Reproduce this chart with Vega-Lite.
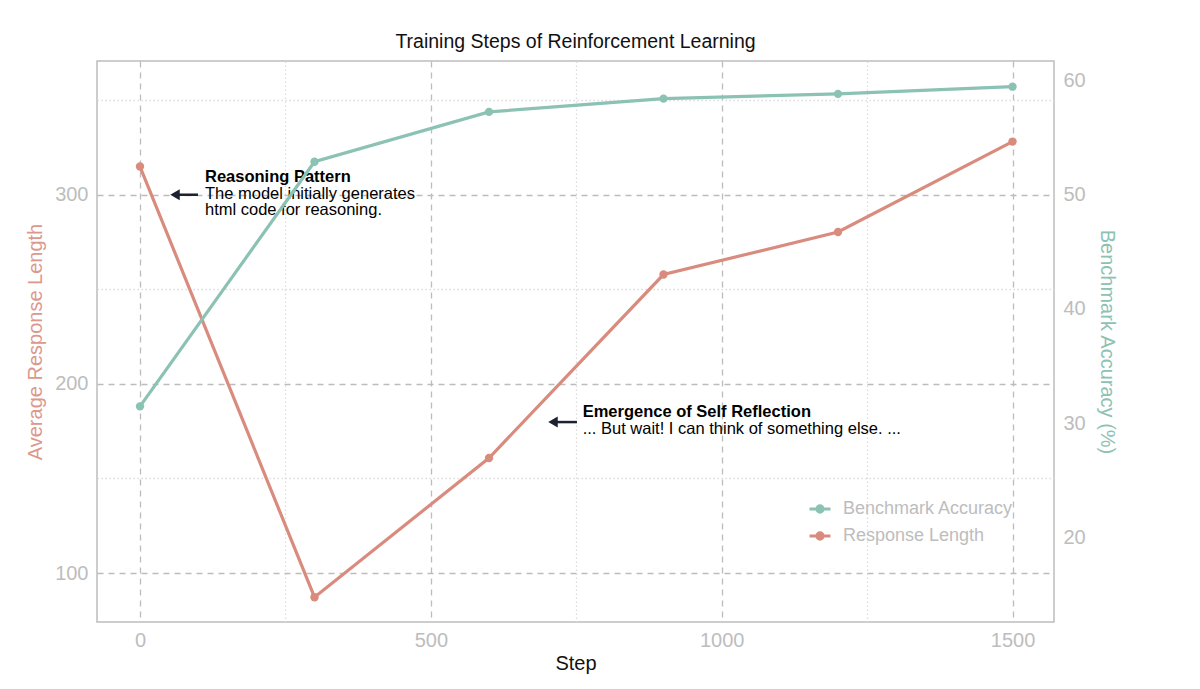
{
  "$schema": "https://vega.github.io/schema/vega-lite/v6.json",
  "width": 957,
  "height": 561,
  "autosize": {"type": "none"},
  "padding": {"left": 97, "top": 61, "right": 146, "bottom": 67},
  "background": "white",
  "config": {
    "font": "Liberation Sans",
    "view": {"stroke": "#bdbdbd", "strokeWidth": 1.5},
    "axis": {"domain": false, "ticks": false, "labelFont": "Liberation Sans", "titleFont": "Liberation Sans", "labelColor": "#bdbdbd", "labelFontSize": 20, "titleFontSize": 20, "titleFontWeight": "normal"}
  },
  "title": {"text": "Training Steps of Reinforcement Learning", "fontSize": 19.5, "fontWeight": "normal", "font": "Liberation Sans", "color": "#111111", "anchor": "middle", "offset": 9},
  "datasets": {
    "series": [
      {"step": 0, "series": "Response Length", "value": 314.9},
      {"step": 300, "series": "Response Length", "value": 87.2},
      {"step": 600, "series": "Response Length", "value": 160.8},
      {"step": 900, "series": "Response Length", "value": 257.8},
      {"step": 1200, "series": "Response Length", "value": 280.3},
      {"step": 1500, "series": "Response Length", "value": 328.1},
      {"step": 0, "series": "Benchmark Accuracy", "value": 31.46},
      {"step": 300, "series": "Benchmark Accuracy", "value": 52.9},
      {"step": 600, "series": "Benchmark Accuracy", "value": 57.27},
      {"step": 900, "series": "Benchmark Accuracy", "value": 58.43},
      {"step": 1200, "series": "Benchmark Accuracy", "value": 58.85},
      {"step": 1500, "series": "Benchmark Accuracy", "value": 59.48}
    ],
    "notes": [
      {"step": 111.7, "value": 309.3, "kind": "title", "text": "Reasoning Pattern"},
      {"step": 111.7, "value": 300.5, "kind": "body", "text": "The model initially generates"},
      {"step": 111.7, "value": 291.7, "kind": "body", "text": "html code for reasoning."},
      {"step": 761, "value": 185.0, "kind": "title", "text": "Emergence of Self Reflection"},
      {"step": 761, "value": 176.0, "kind": "body", "text": "... But wait! I can think of something else. ..."}
    ],
    "arrows": [
      {"step": 60.2, "step2": 99.7, "value": 300.0},
      {"step": 710, "step2": 751.2, "value": 179.8}
    ]
  },
  "layer": [
    {
      "layer": [
        {
          "data": {"name": "series"},
          "transform": [{"filter": "datum.series === 'Response Length'"}],
          "mark": {"type": "line", "strokeWidth": 3.2, "point": {"filled": true, "size": 70}},
          "encoding": {
            "x": {"field": "step", "type": "quantitative", "scale": {"domain": [-73.9, 1571.3], "nice": false, "zero": false},
              "axis": {"title": "Step", "titleColor": "#111111", "titlePadding": 3, "labelPadding": 8,
                "values": [0, 250, 500, 750, 1000, 1250, 1500],
                "labelExpr": "datum.value % 500 === 0 ? format(datum.value, 'd') : ''",
                "grid": true,
                "gridDash": {"condition": {"test": "datum.value % 500 === 0", "value": [6, 5]}, "value": [1.5, 2.5]},
                "gridColor": {"condition": {"test": "datum.value % 500 === 0", "value": "#bcbcbc"}, "value": "#dcdcdc"},
                "gridWidth": 1.3}},
            "y": {"field": "value", "type": "quantitative", "scale": {"domain": [74.1, 370.7], "nice": false, "zero": false},
              "axis": {"orient": "left", "title": "Average Response Length", "titleColor": "#dc988c", "labelPadding": 9, "titlePadding": 9,
                "values": [100, 150, 200, 250, 300, 350],
                "labelExpr": "datum.value % 100 === 0 ? datum.label : ''",
                "grid": true,
                "gridDash": {"condition": {"test": "datum.value % 100 === 0", "value": [6, 5]}, "value": [1.5, 2.5]},
                "gridColor": {"condition": {"test": "datum.value % 100 === 0", "value": "#bcbcbc"}, "value": "#dcdcdc"},
                "gridWidth": 1.3}},
            "color": {"field": "series", "type": "nominal",
              "scale": {"domain": ["Benchmark Accuracy", "Response Length"], "range": ["#8cc2b3", "#d98b7e"]},
              "legend": {"orient": "none", "legendX": 711, "legendY": 436, "title": null,
                "labelFontSize": 18, "labelColor": "#bdbdbd", "labelFont": "Liberation Sans", "labelLimit": 400,
                "symbolType": "M-1,0H1M0.3,0A0.3,0.3,0,1,1,-0.3,0A0.3,0.3,0,1,1,0.3,0Z",
                "symbolSize": 440, "symbolStrokeWidth": 3, "rowPadding": 5, "labelOffset": 11,
                "encode": {"symbols": {"update": {"fill": {"scale": "color", "field": "value"}, "stroke": {"scale": "color", "field": "value"}, "opacity": {"value": 1}}}}}}
          }
        },
        {
          "data": {"name": "arrows"},
          "mark": {"type": "rule", "color": "#1c2230", "strokeWidth": 2.5},
          "encoding": {
            "x": {"field": "step", "type": "quantitative"},
            "x2": {"field": "step2"},
            "y": {"field": "value", "type": "quantitative"}
          }
        },
        {
          "data": {"name": "arrows"},
          "mark": {"type": "point", "shape": "triangle-left", "filled": true, "color": "#1c2230", "size": 120, "opacity": 1},
          "encoding": {
            "x": {"field": "step", "type": "quantitative"},
            "y": {"field": "value", "type": "quantitative"}
          }
        },
        {
          "data": {"name": "notes"},
          "transform": [{"filter": "datum.kind === 'title'"}],
          "mark": {"type": "text", "align": "left", "baseline": "middle", "fontSize": 16.5, "fontWeight": "bold", "font": "Liberation Sans", "color": "#000000"},
          "encoding": {
            "x": {"field": "step", "type": "quantitative"},
            "y": {"field": "value", "type": "quantitative"},
            "text": {"field": "text"}
          }
        },
        {
          "data": {"name": "notes"},
          "transform": [{"filter": "datum.kind === 'body'"}],
          "mark": {"type": "text", "align": "left", "baseline": "middle", "fontSize": 16.5, "font": "Liberation Sans", "color": "#000000"},
          "encoding": {
            "x": {"field": "step", "type": "quantitative"},
            "y": {"field": "value", "type": "quantitative"},
            "text": {"field": "text"}
          }
        }
      ]
    },
    {
      "data": {"name": "series"},
      "transform": [{"filter": "datum.series === 'Benchmark Accuracy'"}],
      "mark": {"type": "line", "strokeWidth": 3.2, "point": {"filled": true, "size": 70}},
      "encoding": {
        "x": {"field": "step", "type": "quantitative"},
        "y": {"field": "value", "type": "quantitative", "scale": {"domain": [12.56, 61.73], "nice": false, "zero": false},
          "axis": {"orient": "right", "title": "Benchmark Accuracy (%)", "titleColor": "#8cc2b3", "labelPadding": 9, "titlePadding": 11,
            "values": [20, 30, 40, 50, 60], "grid": false}},
        "color": {"field": "series", "type": "nominal"}
      }
    }
  ],
  "resolve": {"scale": {"y": "independent"}, "axis": {"y": "independent"}}
}
